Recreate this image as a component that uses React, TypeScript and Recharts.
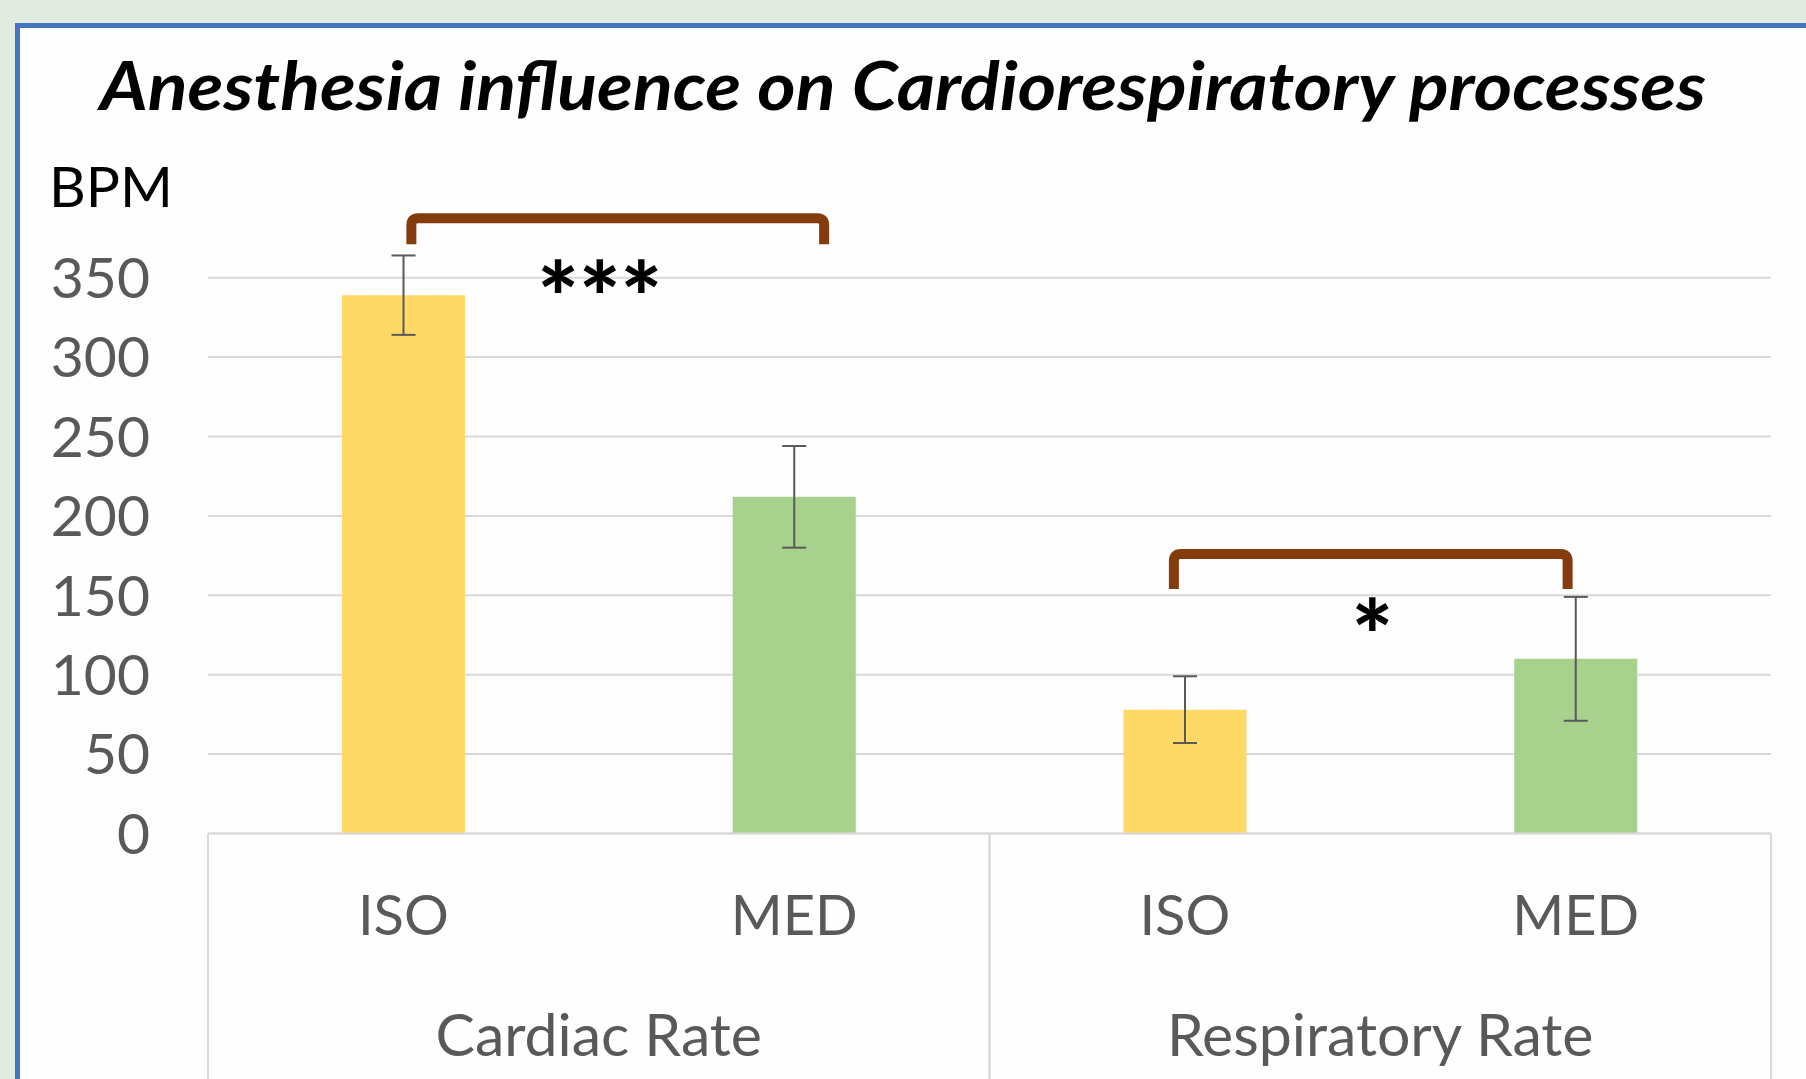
import { BarChart, Bar, XAxis, YAxis, CartesianGrid, Cell, ErrorBar, ReferenceLine } from 'recharts';

const categories = ['cISO', 'cMED', 'rISO', 'rMED'];
const tickLabels = ['ISO', 'MED', 'ISO', 'MED'];
const groups = ['Cardiac Rate', 'Cardiac Rate', 'Respiratory Rate', 'Respiratory Rate'];
const bpm = [339, 212, 78, 110];
const sem = [25, 32, 21, 39];
const yTicks = [0, 50, 100, 150, 200, 250, 300, 350];

// significance brackets: which bars, at what BPM level, and the mark
const brackets = [
  { from: 'cISO', to: 'cMED', level: 387.5, mark: '***' },
  { from: 'rISO', to: 'rMED', level: 176, mark: '*' },
];

const bracketLook = [
  { dxFrom: 8, dxTo: 30, leg: 26, markDx: 1, markDy: 115 },
  { dxFrom: -11, dxTo: -8, leg: 35, markDx: -8, markDy: 117 },
];

const data = categories.map((key, i) => ({
  key,
  label: tickLabels[i],
  group: groups[i],
  bpm: bpm[i],
  sem: sem[i],
}));

const FONT = 'Lato, "Open Sans", sans-serif';
const GRID = '#d9d9d9';
const AXIS_TEXT = '#595959';
const CAT_AXIS_H = 120;

const CatTick = ({ x, y, payload }: any) => (
  <text x={x} y={y + 101.5} textAnchor="middle" fill={AXIS_TEXT} fontSize={56} fontFamily={FONT}>
    {tickLabels[categories.indexOf(payload.value)]}
  </text>
);

const GroupTick = ({ x, y, payload }: any) => {
  const half = payload && payload.offset ? payload.offset : 390.75;
  const top = y - CAT_AXIS_H;
  return (
    <g>
      <line x1={x - half} x2={x - half} y1={top} y2={1100} stroke={GRID} strokeWidth={2} />
      <line x1={x + half} x2={x + half} y1={top} y2={1100} stroke={GRID} strokeWidth={2} />
      <text x={x} y={y + 102.5} textAnchor="middle" fill={AXIS_TEXT} fontSize={59} fontFamily={FONT}>
        {payload.value}
      </text>
    </g>
  );
};

const bracketShape = (i: number) => (p: any) => {
  const look = bracketLook[i];
  const L = p.x1 + look.dxFrom;
  const R = p.x2 + look.dxTo;
  const y = p.y1;
  const r = 7;
  const d = `M ${L} ${y + look.leg} L ${L} ${y + r} Q ${L} ${y} ${L + r} ${y} L ${R - r} ${y} Q ${R} ${y} ${R} ${y + r} L ${R} ${y + look.leg}`;
  return (
    <g>
      <path d={d} fill="none" stroke="#843c0c" strokeWidth={10} />
      <text
        x={(p.x1 + p.x2) / 2 + look.markDx}
        y={y + look.markDy}
        textAnchor="middle"
        fontSize={98}
        fontWeight={900}
        fontFamily={FONT}
        fill="#000"
      >
        {brackets[i].mark}
      </text>
    </g>
  );
};

export default function App() {
  return (
    <div
      style={{
        position: 'absolute',
        left: 0,
        top: 0,
        width: 1806,
        height: 1079,
        overflow: 'hidden',
        background: '#e2ece1',
      }}
    >
      <div
        style={{
          position: 'absolute',
          left: 15,
          top: 23,
          width: 1900,
          height: 1200,
          border: '5px solid #4472c4',
          background: '#fefefe',
        }}
      />
      <svg width={1806} height={260} style={{ position: 'absolute', left: 0, top: 0 }}>
        <text
          x={903}
          y={110}
          textAnchor="middle"
          textLength={1606}
          lengthAdjust="spacingAndGlyphs"
          fontSize={66}
          fontWeight={700}
          fontStyle="italic"
          fontFamily={FONT}
          fill="#000"
        >
          Anesthesia influence on Cardiorespiratory processes
        </text>
        <text x={49} y={207} fontSize={57} fontFamily={FONT} fill="#000">
          BPM
        </text>
      </svg>
      <div style={{ position: 'absolute', left: 0, top: 0 }}>
        <BarChart
          width={1806}
          height={1079}
          data={data}
          margin={{ top: 198.3, right: 35, bottom: 0, left: 0 }}
          barSize={123}
        >
          <CartesianGrid
            xAxisId="cat"
            vertical={false}
            horizontalValues={yTicks}
            stroke={GRID}
            strokeWidth={2}
          />
          <XAxis
            xAxisId="cat"
            dataKey="key"
            height={CAT_AXIS_H}
            interval={0}
            tickLine={false}
            tickSize={0}
            tickMargin={0}
            axisLine={{ stroke: GRID, strokeWidth: 2 }}
            tick={<CatTick />}
          />
          <XAxis
            xAxisId="grp"
            dataKey="group"
            allowDuplicatedCategory={false}
            height={125.5}
            interval={0}
            tickLine={false}
            tickSize={0}
            tickMargin={0}
            axisLine={false}
            tick={<GroupTick />}
          />
          <YAxis
            width={208}
            domain={[0, 400]}
            ticks={yTicks}
            axisLine={false}
            tickLine={false}
            tickSize={0}
            tickMargin={58}
            tick={{ fill: AXIS_TEXT, fontSize: 57, fontFamily: FONT }}
          />
          <Bar xAxisId="cat" dataKey="bpm" isAnimationActive={false}>
            {data.map((d) => (
              <Cell key={d.key} fill={d.label === 'ISO' ? '#ffd966' : '#a9d18e'} />
            ))}
            <ErrorBar dataKey="sem" width={12} strokeWidth={2} stroke="#595959" />
          </Bar>
          {brackets.map((b, i) => (
            <ReferenceLine
              key={b.from}
              xAxisId="cat"
              segment={[
                { x: b.from, y: b.level },
                { x: b.to, y: b.level },
              ]}
              shape={bracketShape(i)}
            />
          ))}
        </BarChart>
      </div>
    </div>
  );
}
